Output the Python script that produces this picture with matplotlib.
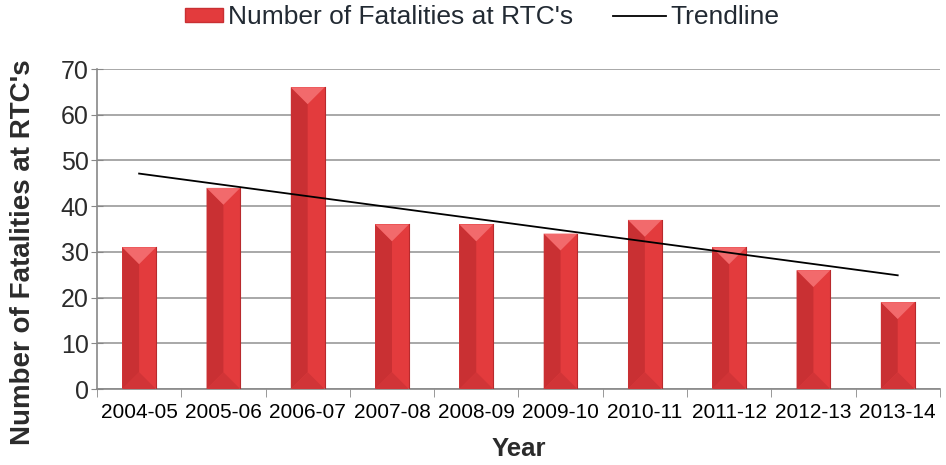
import numpy as np
import matplotlib
matplotlib.use("Agg")
import matplotlib.pyplot as plt
from matplotlib.patches import Polygon, Patch, Rectangle
from matplotlib.lines import Line2D
from matplotlib.legend_handler import HandlerPatch

years = ["2004-05", "2005-06", "2006-07", "2007-08", "2008-09",
         "2009-10", "2010-11", "2011-12", "2012-13", "2013-14"]
fatalities = [31, 44, 66, 36, 36, 34, 37, 31, 26, 19]
y_ticks = [0, 10, 20, 30, 40, 50, 60, 70]

plt.rcParams['font.family'] = ['Liberation Sans', 'DejaVu Sans']

fig = plt.figure(figsize=(9.46, 4.65), dpi=100)
ax = fig.add_axes([0.1025, 0.1634, 0.891, 0.6882])

x = np.arange(len(years))
bw = 0.4
base = "#E33B3D"
bars = ax.bar(x, fatalities, width=bw, color=base, zorder=2, edgecolor="none")

ax.set_xlim(-0.5, len(years) - 0.5)
ax.set_ylim(0, 70)

# bevel overlay
fig.canvas.draw()
bb = ax.get_window_extent()
px_per_x = bb.width / (len(years))
px_per_y = bb.height / 70
bev = (bw / 2) * px_per_x / px_per_y
for b in bars:
    x0 = b.get_x(); w = b.get_width(); h = b.get_height(); xc = x0 + w / 2
    ax.add_patch(Polygon([[x0, 0], [xc, bev], [xc, h - bev], [x0, h]],
                         closed=True, color="#C93033", zorder=3, lw=0))
    ax.add_patch(Polygon([[x0, h], [x0 + w, h], [xc, h - bev]],
                         closed=True, color="#F26A6C", zorder=3, lw=0))
    ax.add_patch(Polygon([[x0, 0], [x0 + w, 0], [xc, bev]],
                         closed=True, color="#D13437", zorder=3, lw=0))
    ax.plot([x0 + w, x0 + w], [0, h], color="#B82A2D", lw=0.8, zorder=3)

# linear trendline
coef = np.polyfit(x, fatalities, 1)
ax.plot(x, np.polyval(coef, x), color="black", lw=1.3, zorder=4)

ax.set_yticks(y_ticks)
ax.set_xticks(x)
ax.set_xticklabels(years, fontsize=15)
ax.tick_params(axis='y', labelsize=18, length=8, direction='inout', color="#888888",
               colors="#2B2B2B", pad=2)
ax.tick_params(axis='x', length=0, pad=10, colors="black")
ax.set_xticks(np.arange(-0.5, len(years)), minor=True)
ax.tick_params(axis='x', which='minor', length=6, direction='out', color="#888888")
ax.yaxis.grid(True, color="#999999", lw=1.2, zorder=0)
ax.set_axisbelow(True)
for s in ["top", "right"]:
    ax.spines[s].set_visible(False)
for s in ["left", "bottom"]:
    ax.spines[s].set_color("#888888")
    ax.spines[s].set_linewidth(1.2)

ax.set_ylabel("Number of Fatalities at RTC's", fontsize=20, fontweight="bold",
              color="#2B2B2B")
ax.yaxis.set_label_coords(-0.072, 0.428)
ax.set_xlabel("Year", fontsize=18.5, fontweight="bold", color="#2B2B2B", labelpad=11)


def bar_handle(legend, orig_handle, xdescent, ydescent, width, height, fontsize):
    pw = width * 0.72
    return Rectangle((width - pw - xdescent, -ydescent), pw, height)


handles = [Patch(facecolor=base, edgecolor="#C93033"),
           Line2D([0], [0], color="black", lw=1.3)]
fig.legend(handles, ["Number of Fatalities at RTC's", "Trendline"],
           loc="center", bbox_to_anchor=(0.502, 0.963), ncol=2, frameon=False,
           fontsize=19, handlelength=2.0, handleheight=0.45, columnspacing=1.5,
           handletextpad=0.2, labelcolor="#222A33",
           handler_map={Patch: HandlerPatch(patch_func=bar_handle)})

fig.savefig("out.png", dpi=100)
